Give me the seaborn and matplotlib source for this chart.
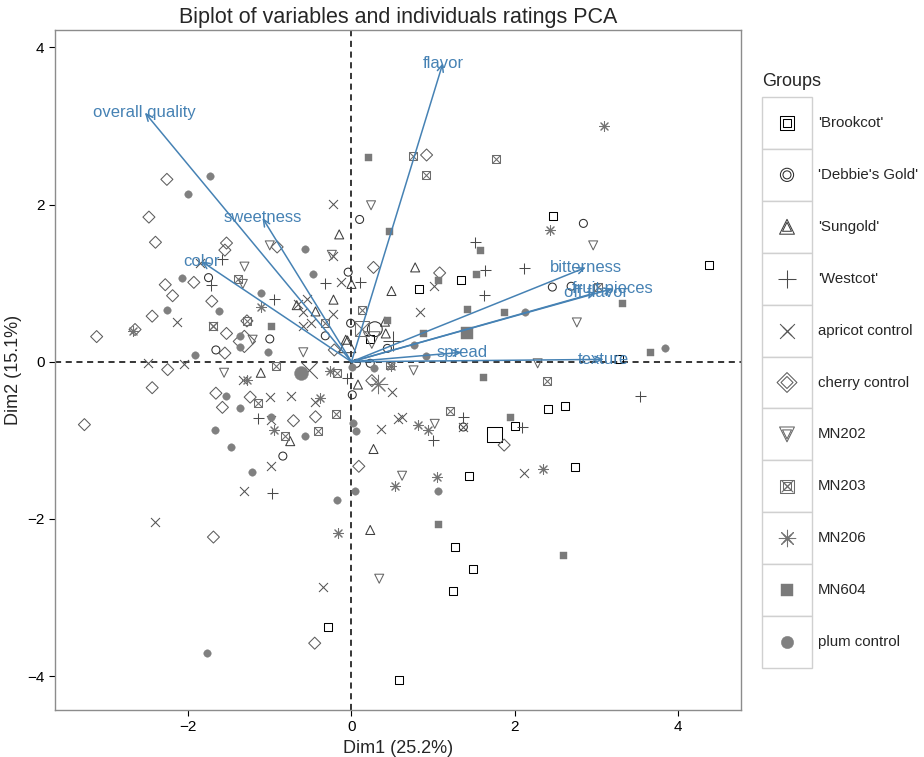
import numpy as np
import pandas as pd
import seaborn as sns
import matplotlib.pyplot as plt
from matplotlib.patches import Rectangle

# individuals (PCA coordinates), one pair of lists per group
brookcot_x = [2.47, 1.34, 0.83, 4.38, 0.23, 3.27, 2.41, 2.62, 2.00, 1.44, 2.74, 1.27, 1.49, 1.24, 0.58, -0.29]
brookcot_y = [1.85, 1.04, 0.92, 1.23, 0.29, 0.03, -0.60, -0.56, -0.82, -1.45, -1.34, -2.36, -2.64, -2.92, -4.05, -3.37]

debbie_x = [0.10, -0.04, -1.75, -0.32, -1.00, -1.66, -0.01, 0.44, 2.84, 2.46, 2.69, 0.01, 1.37, -0.84, 0.06, 0.23]
debbie_y = [1.81, 1.14, 1.07, 0.33, 0.29, 0.15, 0.49, 0.17, 1.76, 0.95, 0.96, -0.42, -0.83, -1.20, -0.02, -0.02]

sungold_x = [-0.15, 0.00, 0.49, -0.67, -0.22, -0.44, -0.07, 0.41, 0.42, 0.78, 0.08, 0.27, 0.23, -1.11, -0.75]
sungold_y = [1.62, 0.99, 0.90, 0.72, 0.79, 0.64, 0.28, 0.51, 0.36, 1.20, -0.29, -1.11, -2.14, -0.14, -1.01]

westcot_x = [-1.58, -1.72, -0.32, 0.11, -0.95, -0.06, 1.51, 1.63, 2.11, 1.62, 3.53, 1.37, 1.00, 2.09, -1.14, -0.97]
westcot_y = [1.31, 0.97, 1.00, 1.01, 0.80, -0.21, 1.52, 1.17, 1.19, 0.85, -0.43, -0.70, -0.99, -0.83, -0.72, -1.67]

apricot_x = [-0.23, -1.85, -0.23, -0.13, -0.55, -0.59, -0.23, -2.14, -1.69, -0.59, -0.49, -0.65, 1.01, 0.84,
             0.50, 0.57, 0.62, 0.36, 1.37, 2.11, -2.49, -2.05, -1.33, -1.00, -0.74, -0.45, -0.98, -0.98,
             -1.31, -2.40, -0.35]
apricot_y = [2.01, 1.26, 1.34, 1.01, 0.80, 0.63, 0.61, 0.50, 0.46, 0.46, 0.49, 0.73, 0.96, 0.63,
             -0.38, -0.73, -0.70, -0.86, -0.83, -1.42, -0.02, -0.03, -0.23, -0.45, -0.44, -0.51, -0.74, -1.33,
             -1.64, -2.04, -2.86]

cherry_x = [-2.26, -2.48, -2.40, -1.53, -0.91, -1.55, -1.93, -2.28, -2.19, -1.71, -2.44, -2.65, -3.12, -1.28,
            -1.53, -1.55, -0.21, 0.27, 0.92, 1.08, 0.25, 1.87, 0.09, -2.25, -2.44, -3.27, -1.66, -1.58,
            -1.24, -0.44, -0.71, -1.69, -0.45]
cherry_y = [2.32, 1.84, 1.52, 1.51, 1.46, 1.42, 1.01, 0.98, 0.84, 0.77, 0.58, 0.41, 0.32, 0.52,
            0.36, 0.11, 0.15, 1.20, 2.63, 1.13, -0.24, -1.06, -1.33, -0.10, -0.33, -0.80, -0.40, -0.58,
            -0.45, -0.70, -0.75, -2.23, -3.58]

mn202_x = [0.24, -1.00, -0.24, -1.31, -1.33, -0.59, 2.96, 2.76, 2.28, 0.76, 1.02, 0.62, 0.34, -1.56, -1.21]
mn202_y = [1.99, 1.48, 1.36, 1.21, 0.99, 0.12, 1.48, 0.50, -0.02, -0.11, -0.79, -1.45, -2.76, -0.14, 0.28]

mn203_x = [0.75, 0.91, 1.77, -1.39, -1.69, -1.28, -0.32, 0.13, 3.02, 0.47, 2.40, 1.21, -0.92, -0.18, -1.14,
           -0.19, -0.81, -0.41]
mn203_y = [2.62, 2.37, 2.58, 1.05, 0.46, 0.52, 0.49, 0.66, 0.95, -0.04, -0.24, -0.63, -0.05, -0.14, -0.53,
           -0.67, -0.94, -0.88]

mn206_x = [3.09, 2.43, -1.11, -2.67, 0.49, 0.82, 0.94, 0.53, 1.05, 2.35, -0.26, -1.28, -0.39, -0.95, -0.17]
mn206_y = [3.00, 1.68, 0.70, 0.39, -0.06, -0.81, -0.87, -1.58, -1.46, -1.37, -0.12, -0.23, -0.46, -0.87, -2.18]

mn604_x = [0.20, 0.46, 0.44, -0.98, 1.58, 1.53, 1.06, 3.31, 1.42, 1.87, 0.87, 3.65, 1.61, 1.94, 1.06, 2.59]
mn604_y = [2.60, 1.66, 0.53, 0.45, 1.42, 1.12, 1.04, 0.75, 0.67, 0.63, 0.36, 0.12, -0.20, -0.70, -2.06, -2.46]

plum_x = [-1.73, -2.00, -0.57, -0.47, -2.07, -1.11, -1.62, -2.26, -1.36, -1.37, -1.02, -1.91, 2.13, 0.76,
          0.91, 3.84, 0.01, 0.27, 0.02, 0.05, 1.06, 0.04, -1.54, -1.37, -0.99, -0.57, -1.67, -1.48,
          -1.22, -0.18, -1.77]
plum_y = [2.36, 2.13, 1.44, 1.12, 1.06, 0.88, 0.65, 0.66, 0.33, 0.19, 0.12, 0.08, 0.63, 0.21,
          0.07, 0.17, -0.07, -0.08, -0.78, -0.88, -1.64, -1.64, -0.44, -0.59, -0.70, -0.95, -0.87, -1.09,
          -1.40, -1.76, -3.71]

groups = ["'Brookcot'", "'Debbie's Gold'", "'Sungold'", "'Westcot'", "apricot control",
          "cherry control", "MN202", "MN203", "MN206", "MN604", "plum control"]
group_x = [brookcot_x, debbie_x, sungold_x, westcot_x, apricot_x, cherry_x,
           mn202_x, mn203_x, mn206_x, mn604_x, plum_x]
group_y = [brookcot_y, debbie_y, sungold_y, westcot_y, apricot_y, cherry_y,
           mn202_y, mn203_y, mn206_y, mn604_y, plum_y]

# variables (arrow tips)
var_names = ["flavor", "overall quality", "sweetness", "color", "bitterness",
             "fruit pieces", "off flavor", "spread", "texture"]
var_x = [1.12, -2.53, -1.09, -1.84, 2.87, 3.20, 3.00, 1.35, 3.09]
var_y = [3.80, 3.17, 1.83, 1.28, 1.20, 0.93, 0.88, 0.12, 0.03]

# ggplot-like shapes and grey palette
markers = ["s", "o", "^", "+", "x", "D", "v", "boxx", (8, 2, 0), "s", "o"]
marker_px = [8, 8, 9, 11, 9, 8.5, 9, 8, 10, 7, 7.5]
filled = [False] * 9 + [True, True]
levels = 0.5 * (np.arange(11) / 10) ** (1 / 2.2)
colors = [(v, v, v) for v in levels]

frames = []
for name, xs, ys in zip(groups, group_x, group_y):
    frames.append(pd.DataFrame({"Dim1": xs, "Dim2": ys, "Groups": name}))
df = pd.concat(frames, ignore_index=True)
means = df.groupby("Groups", sort=False)[["Dim1", "Dim2"]].mean()


def draw_group(ax, xs, ys, k, scale=1.0, lw=0.75):
    c = colors[k]
    m = markers[k]
    s = (marker_px[k] * scale * 0.72) ** 2
    if m == "boxx":
        sns.scatterplot(x=xs, y=ys, marker="s", s=s, color=c, facecolors="none",
                        edgecolor=c, linewidth=lw, ax=ax, legend=False)
        sns.scatterplot(x=xs, y=ys, marker="x", s=s * 0.8, color=c, linewidth=lw,
                        ax=ax, legend=False)
    elif filled[k]:
        sns.scatterplot(x=xs, y=ys, marker=m, s=s, color=c, edgecolor=c,
                        linewidth=0.3, ax=ax, legend=False)
    elif m in ("+", "x") or isinstance(m, tuple):
        sns.scatterplot(x=xs, y=ys, marker=m, s=s, color=c, linewidth=lw,
                        ax=ax, legend=False)
    else:
        sns.scatterplot(x=xs, y=ys, marker=m, s=s, color=c, facecolors="none",
                        edgecolor=c, linewidth=lw, ax=ax, legend=False)


sns.set_style("white")
plt.rcParams["font.family"] = ["Liberation Sans", "DejaVu Sans"]

fig = plt.figure(figsize=(9.24, 7.57), dpi=100)
ax = fig.add_axes([55 / 924, 47 / 757, 686 / 924, 680 / 757])

ax.axhline(0, color="black", linestyle=(0, (4, 3)), linewidth=1.1, zorder=1)
ax.axvline(0, color="black", linestyle=(0, (4, 3)), linewidth=1.1, zorder=1)

for k, name in enumerate(groups):
    sub = df[df["Groups"] == name]
    draw_group(ax, sub["Dim1"], sub["Dim2"], k)
    draw_group(ax, [means.loc[name, "Dim1"]], [means.loc[name, "Dim2"]], k, scale=1.85)

# variable arrows
for name, vx, vy in zip(var_names, var_x, var_y):
    ax.annotate("", xy=(vx, vy), xytext=(0, 0),
                arrowprops=dict(arrowstyle="->,head_length=0.5,head_width=0.22",
                                color="steelblue", lw=1.1, shrinkA=0, shrinkB=0),
                zorder=4)
    ax.text(vx, vy, name, color="steelblue", fontsize=12, ha="center", va="center", zorder=5)

ax.set_xlim(-3.63, 4.77)
ax.set_ylim(-4.43, 4.22)
ax.set_xticks([-2, 0, 2, 4])
ax.set_yticks([-4, -2, 0, 2, 4])
ax.tick_params(axis="both", direction="out", length=4, width=0.8, color="black",
               labelsize=11, labelcolor="black", bottom=True, left=True)
for spine in ax.spines.values():
    spine.set_color("#8c8c8c")
    spine.set_linewidth(1.0)
ax.set_xlabel("Dim1 (25.2%)", fontsize=13)
ax.set_ylabel("Dim2 (15.1%)", fontsize=13)
ax.set_title("Biplot of variables and individuals ratings PCA", fontsize=15.5, pad=5)

# legend drawn as its own small panel of keyed boxes
lax = fig.add_axes([762 / 924, (757 - 668) / 757, 162 / 924, 571 / 757])
lax.set_xlim(0, 162)
lax.set_ylim(len(groups), 0)
lax.axis("off")
for k, name in enumerate(groups):
    lax.add_patch(Rectangle((0, k), 50, 1, facecolor="white", edgecolor="#d0d0d0",
                            linewidth=1.0, clip_on=False))
    draw_group(lax, [25], [k + 0.5], k, scale=1.65)
    draw_group(lax, [25], [k + 0.5], k)
    lax.text(56, k + 0.5, name, fontsize=10.8, va="center", ha="left")
lax.text(0, -0.3, "Groups", fontsize=13, va="center", ha="left")

fig.savefig("out.png", dpi=100)
plt.close(fig)
